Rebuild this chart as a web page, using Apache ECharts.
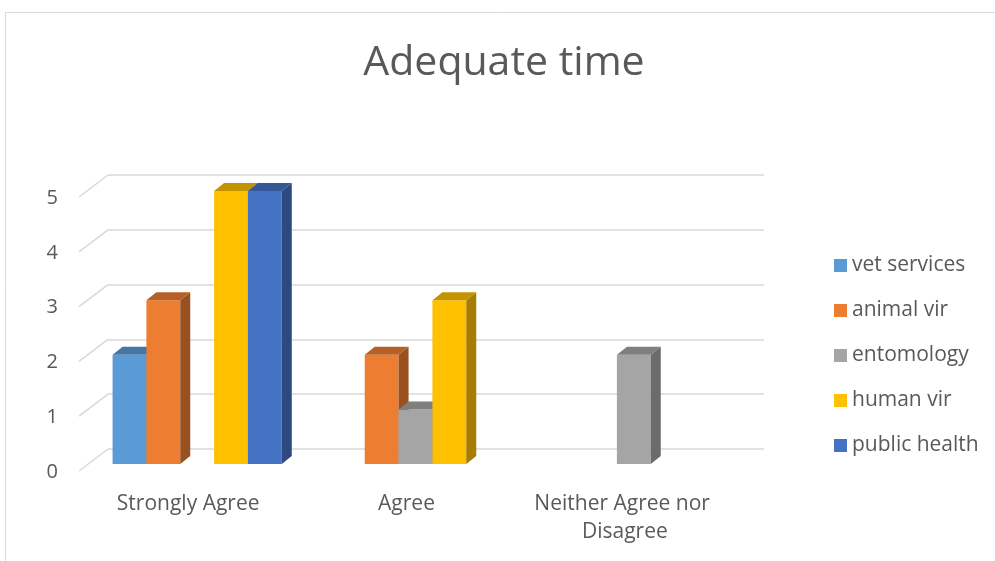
<!DOCTYPE html>
<html>
<head>
<meta charset="utf-8">
<script src="https://cdn.jsdelivr.net/npm/echarts@6/dist/echarts.min.js"></script>
<style>
  html, body { margin: 0; padding: 0; background: #ffffff; }
  #chart { width: 995px; height: 561px; }
</style>
</head>
<body>
<div id="chart"></div>
<script>
// Survey responses: "Adequate time"
const categories = ['Strongly Agree', 'Agree', 'Neither Agree nor Disagree'];
const seriesNames = ['vet services', 'animal vir', 'entomology', 'human vir', 'public health'];
const vetServices = [2, 0, 0];
const animalVir = [3, 2, 0];
const entomology = [0, 1, 2];
const humanVir = [5, 3, 0];
const publicHealth = [5, 0, 0];
const yTicks = [0, 1, 2, 3, 4, 5];

const seriesValues = [vetServices, animalVir, entomology, humanVir, publicHealth];
const frontColors = ['#5B9BD5', '#ED7D31', '#A5A5A5', '#FFC000', '#4472C4'];

function shade(hex, f) {
  const n = parseInt(hex.slice(1), 16);
  const r = Math.round(((n >> 16) & 255) * f);
  const g = Math.round(((n >> 8) & 255) * f);
  const b = Math.round((n & 255) * f);
  return 'rgb(' + r + ',' + g + ',' + b + ')';
}

const FONT = '"Open Sans"';
const TEXT = '#595959';
const GRID_LINE = '#d9d9d9';
const DEPTH_X = 10, DEPTH_Y = -8;

// Draws a column with front, side and top faces
function makeBarRenderer(idx) {
  const front = frontColors[idx];
  const top = shade(front, 0.77);
  const side = shade(front, 0.65);
  return function (params, api) {
    const cat = api.value(0);
    const val = api.value(1);
    if (!val) return null;
    const band = api.size([1, 0])[0];
    const bw = band * 0.775 / 5;
    const base = api.coord([cat, 0]);
    const x0 = base[0] - 2.5 * bw + idx * bw;
    const yBase = base[1];
    const yTop = api.coord([cat, val])[1];
    return {
      type: 'group',
      children: [
        { type: 'rect', shape: { x: x0, y: yTop, width: bw, height: yBase - yTop }, style: { fill: front } },
        { type: 'polygon', shape: { points: [[x0 + bw, yTop], [x0 + bw + DEPTH_X, yTop + DEPTH_Y], [x0 + bw + DEPTH_X, yBase + DEPTH_Y], [x0 + bw, yBase]] }, style: { fill: side } },
        { type: 'polygon', shape: { points: [[x0, yTop], [x0 + DEPTH_X, yTop + DEPTH_Y], [x0 + bw + DEPTH_X, yTop + DEPTH_Y], [x0 + bw, yTop]] }, style: { fill: top } }
      ]
    };
  };
}

const barSeries = seriesNames.map(function (name, i) {
  return {
    name: name,
    type: 'custom',
    xAxisIndex: 1,
    yAxisIndex: 1,
    renderItem: makeBarRenderer(i),
    itemStyle: { color: frontColors[i] },
    encode: { x: 0, y: 1 },
    data: seriesValues[i].map(function (v, c) { return [c, v]; }),
    z: 3
  };
});

// Floor-to-wall diagonals for each gridline
const diagonalSeries = {
  name: 'wall',
  type: 'custom',
  xAxisIndex: 0,
  yAxisIndex: 0,
  silent: true,
  renderItem: function (params, api) {
    const y = api.coord([0, api.value(1)])[1];
    const x = params.coordSys.x;
    return {
      type: 'line',
      shape: { x1: x, y1: y, x2: x - 29, y2: y + 22 },
      style: { stroke: GRID_LINE, lineWidth: 1.5 }
    };
  },
  encode: { x: 0, y: 1 },
  data: yTicks.map(function (v) { return [0, v]; }),
  z: 1
};

const chart = echarts.init(document.getElementById('chart'), null, { renderer: 'canvas' });
chart.setOption({
  animation: false,
  backgroundColor: '#ffffff',
  textStyle: { fontFamily: FONT },
  graphic: [{
    type: 'rect',
    left: 3, top: 10,
    shape: { width: 1000, height: 600 },
    style: { fill: null, stroke: GRID_LINE, lineWidth: 1 },
    silent: true, z: -10
  }],
  title: {
    text: 'Adequate time',
    left: 499,
    textAlign: 'center',
    top: 38,
    textStyle: { fontFamily: FONT, fontSize: 41, fontWeight: 'normal', color: TEXT }
  },
  legend: {
    orient: 'vertical',
    left: 829,
    top: 250,
    itemWidth: 13,
    itemHeight: 13,
    itemGap: 24,
    icon: 'rect',
    data: seriesNames,
    textStyle: { fontFamily: FONT, fontSize: 21, color: TEXT }
  },
  grid: [
    // back wall
    { left: 108, top: 175, width: 656, height: 274 },
    // column front plane
    { left: 88, top: 191, width: 655, height: 273 },
    // front edge for axis labels
    { left: 79, top: 198, width: 655, height: 274 }
  ],
  xAxis: [
    { type: 'category', gridIndex: 0, data: categories, show: false },
    { type: 'category', gridIndex: 1, data: categories, show: false },
    {
      type: 'category', gridIndex: 2, data: categories,
      axisLine: { show: false }, axisTick: { show: false },
      axisLabel: {
        margin: 18, fontFamily: FONT, fontSize: 21, color: TEXT,
        lineHeight: 28, width: 200, overflow: 'break', interval: 0
      }
    }
  ],
  yAxis: [
    {
      type: 'value', gridIndex: 0, min: 0, max: 5, interval: 1,
      axisLine: { show: false }, axisTick: { show: false }, axisLabel: { show: false },
      splitLine: { lineStyle: { color: GRID_LINE, width: 1.5 } }
    },
    { type: 'value', gridIndex: 1, min: 0, max: 5, interval: 1, show: false, splitLine: { show: false } },
    {
      type: 'value', gridIndex: 2, min: 0, max: 5, interval: 1,
      axisLine: { show: false }, axisTick: { show: false }, splitLine: { show: false },
      axisLabel: { margin: 21, fontFamily: FONT, fontSize: 20, color: TEXT }
    }
  ],
  series: [diagonalSeries].concat(barSeries)
});
</script>
</body>
</html>
